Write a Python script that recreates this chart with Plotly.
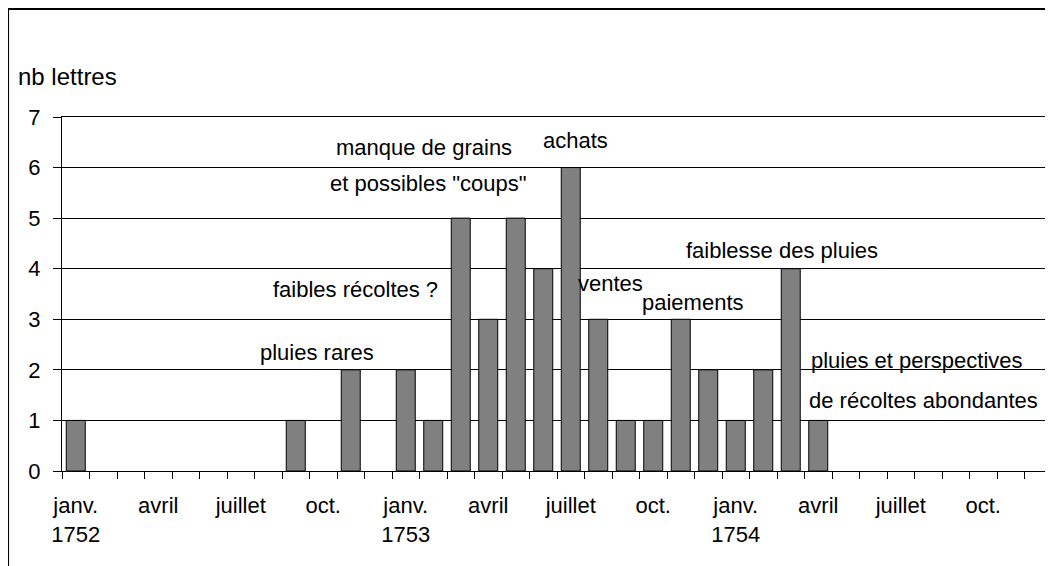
import plotly.graph_objects as go

# ---- data ----
categories = [f"{y}-{m:02d}" for y in (1752, 1753, 1754) for m in range(1, 13)]
letters = [1, 0, 0, 0, 0, 0, 0, 0, 1, 0, 2, 0,
           2, 1, 5, 3, 5, 4, 6, 3, 1, 1, 3, 2,
           1, 2, 4, 1, 0, 0, 0, 0, 0, 0, 0, 0]
tick_labels = ["janv.<br>1752", "", "", "avril", "", "", "juillet", "", "", "oct.", "", "",
               "janv.<br>1753", "", "", "avril", "", "", "juillet", "", "", "oct.", "", "",
               "janv.<br>1754", "", "", "avril", "", "", "juillet", "", "", "oct.", "", ""]
y_ticks = [0, 1, 2, 3, 4, 5, 6, 7]
notes = ["pluies rares", "faibles récoltes ?", "manque de grains", 'et possibles "coups"',
         "achats", "ventes", "paiements", "faiblesse des pluies",
         "pluies et perspectives", "de récoltes abondantes"]
note_x = [8.76, 10.17, 12.66, 12.81, 18.19, 19.43, 22.45, 25.68, 30.59, 30.83]
note_y = [2.35, 3.58, 6.40, 5.69, 6.54, 3.70, 3.34, 4.37, 2.19, 1.40]

FONT = "Liberation Sans, Arial, sans-serif"

fig = go.Figure()
fig.add_trace(go.Bar(
    x=categories, y=letters,
    marker=dict(color="#808080",
                line=dict(color="#000000", width=[1 if v else 0 for v in letters])),
    hoverinfo="x+y",
))

for t, x, y in zip(notes, note_x, note_y):
    fig.add_annotation(x=x, y=y, xref="x", yref="y", text=t, showarrow=False,
                       xanchor="center", yanchor="middle",
                       font=dict(family=FONT, size=22, color="#000000"))

fig.add_annotation(x=-0.0465, y=1.113, xref="paper", yref="paper", text="nb lettres",
                   showarrow=False, xanchor="left", yanchor="middle",
                   font=dict(family=FONT, size=24, color="#000000"))

# outer chart border
fig.add_shape(type="rect", xref="paper", yref="paper",
              x0=-0.0545, x1=1.2, y0=-0.6, y1=1.305,
              line=dict(color="#000000", width=2), fillcolor="rgba(0,0,0,0)", layer="below")

# the page body adds an 8px offset; the figure is sized so the plot area lands where it should
fig.update_layout(
    width=1045, height=558,
    margin=dict(l=54, r=1, t=109, b=95),
    paper_bgcolor="#ffffff", plot_bgcolor="#ffffff",
    showlegend=False,
    bargap=0.31,
    font=dict(family=FONT, size=22, color="#000000"),
    xaxis=dict(type="category", tickmode="array", tickvals=categories, ticktext=tick_labels,
               tickson="boundaries", ticks="outside", ticklen=7, tickcolor="#000000",
               showline=True, linecolor="#000000", linewidth=1, mirror=True,
               showgrid=False, tickangle=0, automargin=False, ticklabelstandoff=15,
               tickfont=dict(family=FONT, size=22, color="#000000")),
    yaxis=dict(range=[0, 7], tickmode="array", tickvals=y_ticks,
               ticks="outside", ticklen=8, tickcolor="#000000",
               showline=True, linecolor="#000000", linewidth=1, mirror=True,
               showgrid=True, gridcolor="#000000", gridwidth=1, zeroline=False,
               automargin=False, ticklabelstandoff=8,
               tickfont=dict(family=FONT, size=22, color="#000000")),
)

fig.write_html("out.html")
